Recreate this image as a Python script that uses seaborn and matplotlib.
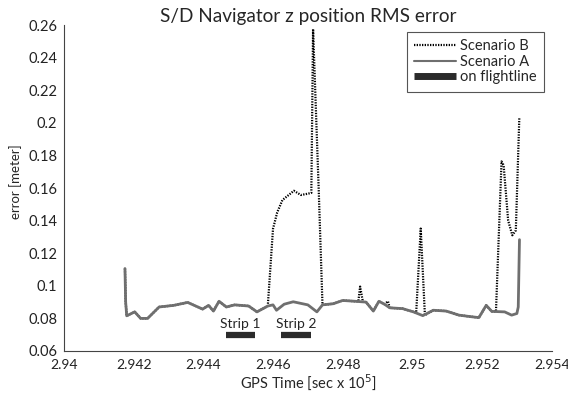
import matplotlib
matplotlib.use("Agg")
import matplotlib.pyplot as plt
import seaborn as sns
import pandas as pd
from matplotlib.lines import Line2D
from matplotlib.ticker import FuncFormatter

# GPS time in units of 1e5 sec, error in metres
time_a = [2.94175, 2.94177, 2.94180, 2.94203, 2.94220, 2.94240, 2.94273, 2.94315,
          2.94355, 2.94398, 2.94415, 2.94429, 2.94445, 2.94466, 2.94490, 2.94530,
          2.94554, 2.94585, 2.94600, 2.94610, 2.94632, 2.94658, 2.94700, 2.94726,
          2.94742, 2.94773, 2.94800, 2.94836, 2.94867, 2.94888, 2.94904, 2.94920,
          2.94935, 2.94972, 2.95003, 2.95030, 2.95060, 2.95097, 2.95134, 2.95170,
          2.95191, 2.95212, 2.95228, 2.95265, 2.95285, 2.95300, 2.95304, 2.953075]
err_a = [0.1106, 0.0900, 0.0816, 0.0840, 0.0800, 0.0800, 0.0870, 0.0880,
         0.0898, 0.0857, 0.0880, 0.0845, 0.0905, 0.0870, 0.0883, 0.0876,
         0.0840, 0.0876, 0.0883, 0.0850, 0.0887, 0.0902, 0.0883, 0.0840,
         0.0883, 0.0890, 0.0910, 0.0905, 0.0900, 0.0845, 0.0905, 0.0887,
         0.0865, 0.0860, 0.0840, 0.0817, 0.0850, 0.0845, 0.0820, 0.0810,
         0.0805, 0.0880, 0.0843, 0.0840, 0.0820, 0.0830, 0.0870, 0.1283]

time_b = [2.94175, 2.94177, 2.94180, 2.94203, 2.94220, 2.94240, 2.94273, 2.94315,
          2.94355, 2.94398, 2.94415, 2.94429, 2.94445, 2.94466, 2.94490, 2.94530,
          2.94554, 2.94585, 2.94600, 2.94612, 2.94627, 2.94660, 2.94680, 2.94700,
          2.94710, 2.94715, 2.94731, 2.94742, 2.94773, 2.94800, 2.94836, 2.94845,
          2.94850, 2.94858, 2.94867, 2.94888, 2.94904, 2.94920, 2.94930, 2.94935,
          2.94972, 2.95003, 2.95011, 2.95024, 2.95036, 2.95060, 2.95097, 2.95134,
          2.95170, 2.95191, 2.95212, 2.95228, 2.95240, 2.95256, 2.95262, 2.95275,
          2.95287, 2.95297, 2.95307]
err_b = [0.1106, 0.0900, 0.0816, 0.0840, 0.0800, 0.0800, 0.0870, 0.0880,
         0.0898, 0.0857, 0.0880, 0.0845, 0.0905, 0.0870, 0.0883, 0.0876,
         0.0840, 0.0876, 0.1350, 0.1450, 0.1526, 0.1583, 0.1557, 0.1565,
         0.1570, 0.2575, 0.1600, 0.0883, 0.0890, 0.0910, 0.0905, 0.0905,
         0.0995, 0.0902, 0.0900, 0.0845, 0.0905, 0.0887, 0.0905, 0.0865,
         0.0860, 0.0840, 0.0835, 0.1351, 0.0820, 0.0850, 0.0845, 0.0820,
         0.0810, 0.0805, 0.0880, 0.0843, 0.0842, 0.1763, 0.1740, 0.1400,
         0.1310, 0.1340, 0.2030]

strip_names = ["Strip 1", "Strip 2"]
strip_start = [2.94464, 2.94623]
strip_end = [2.94548, 2.94709]
strip_level = 0.0698

df_a = pd.DataFrame({"t": time_a, "err": err_a})
df_b = pd.DataFrame({"t": time_b, "err": err_b})

sns.set_style("white")
plt.rcParams["font.family"] = ["Lato", "DejaVu Sans"]

fig = plt.figure(figsize=(5.68, 3.97), dpi=100)
ax = fig.add_axes([64 / 568, 1 - 351 / 397, 487.7 / 568, 326 / 397])

gray = "#6f6f6f"
dots = (0, (0.6, 0.6))
sns.lineplot(data=df_b, x="t", y="err", ax=ax, color="black", lw=1.6,
             linestyle=dots, estimator=None, sort=False)
sns.lineplot(data=df_a, x="t", y="err", ax=ax, color=gray, lw=2.0,
             estimator=None, sort=False)

for name, s, e in zip(strip_names, strip_start, strip_end):
    ax.plot([s, e], [strip_level, strip_level], color="#2b2b2b", lw=4.5,
            solid_capstyle="butt")
    ax.text((s + e) / 2, strip_level + 0.003, name, ha="center", va="bottom",
            fontsize=10)

ax.set_xlim(2.94, 2.954)
ax.set_ylim(0.06, 0.26)
ax.set_xticks([2.94 + 0.002 * i for i in range(8)])
ax.set_yticks([0.06 + 0.02 * i for i in range(11)])
ax.xaxis.set_major_formatter(FuncFormatter(lambda v, p: "%g" % round(v, 4)))
ax.yaxis.set_major_formatter(FuncFormatter(lambda v, p: "%g" % round(v, 3)))
ax.tick_params(direction="in", length=4, width=0.8, labelsize=10.5, colors="#222222")
ax.tick_params(axis="x", pad=5.5, labelsize=10)
ax.tick_params(axis="y", pad=5)
sns.despine(ax=ax)
for sp in ["left", "bottom"]:
    ax.spines[sp].set_color("#444444")
    ax.spines[sp].set_linewidth(0.8)

ax.set_title("S/D Navigator z position RMS error", fontsize=13.7, pad=2)
ax.set_xlabel("GPS Time [sec x 10$^{5}$]", fontsize=10.5, labelpad=1)
ax.set_ylabel("error [meter]", fontsize=9.5)
ax.yaxis.set_label_coords(-0.086, 0.52)

handles = [Line2D([], [], color="black", lw=1.6, linestyle=dots),
           Line2D([], [], color=gray, lw=1.5),
           Line2D([], [], color="#2b2b2b", lw=5, solid_capstyle="butt")]
leg = ax.legend(handles, ["Scenario B", "Scenario A", "on flightline"],
                loc="upper right", bbox_to_anchor=(544 / 568, 1 - 32 / 397),
                bbox_transform=fig.transFigure, borderaxespad=0, fontsize=10.5,
                fancybox=False, framealpha=1, handlelength=2.9, handletextpad=0.25,
                labelspacing=0.1, borderpad=0.5)
leg.get_frame().set_edgecolor("#555555")
leg.get_frame().set_linewidth(0.8)

fig.savefig("out.png", dpi=100)
